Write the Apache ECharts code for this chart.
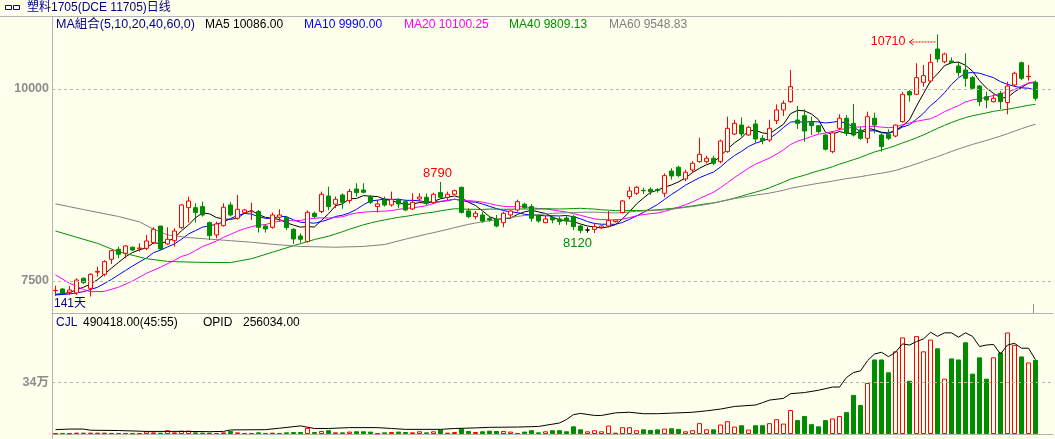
<!DOCTYPE html>
<html><head><meta charset="utf-8">
<script src="https://cdn.jsdelivr.net/npm/echarts@6/dist/echarts.min.js"></script>
<style>html,body{margin:0;padding:0;background:#FFFFEE;overflow:hidden}#c{width:1055px;height:439px}</style>
</head><body><div id="c"></div>
<script>
// ---- data ----
const open = [7374,7396,7353,7345,7535,7405,7615,7587,7783,7913,
7861,7939,7920,7926,8000,8216,7982,8025,8195,8455,
8455,8469,8260,8100,8221,8490,8317,8390,8400,8404,
8216,8199,8330,8330,8173,8086,8013,8382,8404,8607,
8500,8620,8547,8698,8685,8599,8469,8555,8490,8555,
8533,8438,8568,8590,8521,8651,8590,8629,8720,8412,
8339,8360,8313,8304,8260,8360,8425,8500,8469,8347,
8260,8330,8308,8320,8339,8216,8164,8173,8195,8216,
8273,8391,8599,8642,8680,8694,8690,8642,8932,8981,
8828,8946,9054,9054,9098,9054,9184,9414,9531,9401,
9544,9358,9336,9588,9727,9835,9596,9653,9566,9522,
9401,9184,9488,9619,9553,9466,9358,9619,9401,9410,
9388,9575,9966,9931,10087,10104,10521,10355,10365,10300,
10247,10148,10039,9900,9835,9944,9823,10052,10343,10160,
10087];
const close = [7378,7340,7383,7513,7478,7587,7625,7752,7895,7848,
7956,7904,7930,8021,8173,7917,8043,8151,8490,8542,
8391,8360,8091,8243,8460,8360,8434,8425,8408,8199,
8177,8360,8360,8195,8047,8043,8395,8339,8629,8469,
8564,8525,8665,8651,8655,8525,8503,8490,8564,8503,
8425,8525,8594,8512,8629,8590,8629,8676,8391,8338,
8382,8281,8295,8216,8382,8412,8533,8455,8317,8282,
8308,8295,8273,8280,8208,8156,8164,8208,8216,8286,
8295,8542,8672,8720,8675,8663,8680,8872,8868,8872,
8916,9033,9150,9098,9033,9323,9488,9553,9414,9501,
9349,9328,9488,9727,9814,10030,9553,9453,9522,9444,
9215,9430,9619,9423,9401,9358,9640,9531,9250,9358,
9531,9931,9922,10148,10174,10348,10391,10456,10343,10213,
10139,10009,9835,9857,9879,9835,10039,10205,10139,10165,
9879];
const low = [7305,7330,7318,7320,7462,7297,7557,7560,7722,7796,
7796,7890,7883,7900,7980,7900,7969,7947,8180,8260,
8260,8339,8034,8056,8208,8340,8300,8380,8294,8130,
8130,8180,8273,8164,7982,8000,8000,8317,8382,8420,
8447,8440,8510,8599,8642,8503,8391,8469,8469,8447,
8410,8425,8533,8490,8500,8570,8555,8620,8380,8317,
8304,8260,8273,8199,8199,8330,8404,8440,8273,8260,
8252,8252,8230,8230,8164,8120,8130,8125,8180,8200,
8260,8380,8564,8620,8633,8620,8650,8590,8820,8850,
8800,8910,9040,9030,9010,9030,9170,9400,9380,9390,
9300,9280,9310,9544,9649,9820,9480,9314,9401,9420,
9200,9163,9466,9388,9380,9336,9293,9423,9184,9336,
9370,9560,9835,9920,10030,10083,10348,10335,10335,10161,
10030,9990,9779,9749,9823,9736,9671,10030,10117,10109,
9848];
const high = [7439,7405,7435,7535,7548,7600,7687,7770,7904,7948,
7969,7950,7991,8100,8200,8216,8199,8187,8500,8598,
8512,8533,8273,8273,8512,8530,8620,8440,8520,8425,
8240,8390,8434,8339,8187,8121,8420,8404,8664,8728,
8599,8640,8700,8772,8772,8620,8555,8599,8664,8577,
8560,8642,8642,8640,8650,8790,8664,8690,8729,8447,
8412,8400,8347,8360,8404,8425,8560,8520,8500,8360,
8347,8360,8339,8350,8360,8230,8199,8252,8225,8412,
8300,8555,8729,8737,8716,8720,8710,8902,8968,9000,
8950,9060,9366,9130,9130,9340,9640,9600,9630,9520,
9600,9400,9600,9800,9850,10247,9780,9736,9640,9530,
9410,9450,9671,9661,9805,9509,9705,9692,9444,9475,
9540,9960,9987,10335,10312,10456,10710,10473,10412,10356,
10465,10170,10052,9966,9931,9974,10096,10226,10356,10312,
10109];
// volume, thousands of lots
const volumeK = [5,7,5,9,9,9,9,9,7,7,
7,5,5,18,11,9,25,11,22,22,
11,9,9,7,11,20,11,7,7,11,
7,9,7,11,13,13,40,13,20,25,
11,11,16,18,18,16,5,11,13,16,
13,11,18,11,18,29,9,13,36,20,
13,18,22,20,20,16,7,16,25,11,
18,25,25,18,51,31,18,25,18,56,
9,45,45,25,31,27,31,36,38,34,
18,25,72,31,31,63,85,49,58,29,
58,58,72,98,69,159,92,119,65,51,
92,103,119,145,259,192,338,494,494,409,
548,640,353,649,548,626,568,367,501,494,
608,400,508,367,508,541,673,591,514,474,
490.418];
// open interest (OPID) read at these day indices
const oiIdx = [0,2,4,5,9,13,19,22,24,25,30,32,35,37,39,42,46,48,50,55,57,60,62,66,69,72,73,74,75,77,78,80,82,84,86,88,91,93,95,97,100,101,102,104,105,107,109,111,112,113,114,115,116,117,118,119,120,121,122,123,124,125,126,127,128,129,130,131,132,133,134,135,136,137,138,139,140];
const oiK = [15,17,17,13,12,9,9,8,9,14,15,20,28,19,19,22,22,19,16,16,19,21,23,24,26,38,50,67,71,64,64,73,75,70,70,72,75,80,86,95,100,108,117,123,139,143,151,162,162,195,212,218,253,276,282,267,282,311,307,319,328,351,337,349,349,334,349,337,302,307,309,276,307,313,296,296,256.034];
// MA warm-up values (before enough closes exist)
const ma5HeadIdx = [0,1,2,3], ma5Head = [7327,7335,7350,7385];
const ma10HeadIdx = [0,2,4,6,8], ma10Head = [7318,7331,7361,7418,7520];
const ma20HeadIdx = [0,2,4,5,7,9,11,13,15,17,18], ma20Head = [7580,7470,7390,7360,7365,7420,7500,7600,7680,7770,7820];
const ma40HeadIdx = [0,3,6,9,13,16,20,25,28,31,34,37], ma40Head = [8151,8070,7990,7880,7790,7755,7744,7740,7790,7875,7960,8040];
const ma60HeadIdx = [0,4,9,12,14,16,19,22,25,28,31,35,40,44,47,50,53,55,57], ma60Head = [8505,8430,8340,8270,8175,8100,8065,8045,8025,8005,7978,7950,7940,7950,7975,8045,8110,8150,8195];
const priceTicks = [7500, 10000];
const volTicks = [340000];
const peakHi = {idx:126, val:10710};
const midHi = {idx:55, val:8790};
const midLo = {idx:75, val:8120};
const dojiBlack = [76];

// ---- build ----
const BG = '#FFFFEE', RED = '#FF0000', GREEN = '#008C00', NAVY = '#000088', GRID = '#B4B4B4';
const N = open.length;
const cats = open.map((_, i) => String(i + 1)).concat(['', '']);
function ma(n, hi, hv) {
  const out = new Array(N).fill(null);
  hi.forEach((k, j) => { out[k] = hv[j]; });
  for (let i = n - 1; i < N; i++) { let s = 0; for (let j = i - n + 1; j <= i; j++) s += close[j]; out[i] = s / n; }
  return out;
}
const candles = open.map((o, i) => {
  const d = {value: [o, close[i], low[i], high[i]]};
  if (dojiBlack.includes(i)) d.itemStyle = {color: '#000', color0: '#000', borderColor: '#000', borderColor0: '#000'};
  return d;
});
const vols = volumeK.map((v, i) => {
  const up = close[i] >= open[i];
  return {value: Math.round(v * 1000), itemStyle: up ? {color: BG, borderColor: RED, borderWidth: 1} : {color: GREEN, borderColor: GREEN, borderWidth: 1}};
});
const oi = oiIdx.map((k, j) => [k, oiK[j] * 1000]);
function maLine(name, data, color) {
  return {name, type: 'line', data, xAxisIndex: 0, yAxisIndex: 0, symbol: 'none', connectNulls: true,
    lineStyle: {color, width: 1}, z: 3, silent: true};
}
const chart = echarts.init(document.getElementById('c'), null, {renderer: 'canvas'});
const lblStyle = {color: '#8C8C8C', fontWeight: 'bold', fontSize: 12.5, fontFamily: 'Liberation Sans, Noto Sans CJK SC, sans-serif', margin: 3};
chart.setOption({
  animation: false,
  backgroundColor: BG,
  grid: [{left: 52, top: 17, width: 1001, height: 296}, {left: 52, top: 314, width: 1001, height: 120}],
  xAxis: [
    {type: 'category', data: cats, gridIndex: 0, boundaryGap: true, axisLine: {show: true, lineStyle: {color: GRID}}, axisTick: {show: false}, axisLabel: {show: false}, splitLine: {show: false}},
    {type: 'category', data: cats, gridIndex: 1, boundaryGap: true, axisLine: {show: true, lineStyle: {color: GRID}}, axisTick: {show: false}, axisLabel: {show: false}, splitLine: {show: false}}
  ],
  yAxis: [
    {type: 'value', gridIndex: 0, min: 10000 - 224 * 2500 / 192, max: 10000 + 72 * 2500 / 192, axisLine: {show: false}, axisTick: {show: false}, splitLine: {show: false},
      axisLabel: Object.assign({customValues: priceTicks, formatter: v => String(Math.round(v))}, lblStyle)},
    {type: 'value', gridIndex: 1, min: 0, max: 120 * 340000 / 51.3, axisLine: {show: false}, axisTick: {show: false}, splitLine: {show: false},
      axisLabel: Object.assign({customValues: volTicks, formatter: v => Math.round(v / 10000) + '万'}, lblStyle)},
    {type: 'value', gridIndex: 1, min: 0, max: 120 * 256034 / 74.2, show: false}
  ],
  series: [
    {type: 'candlestick', data: candles, xAxisIndex: 0, yAxisIndex: 0, barWidth: 5, z: 4,
      itemStyle: {color: BG, color0: GREEN, borderColor: RED, borderColor0: GREEN, borderWidth: 1},
      markLine: {silent: true, symbol: 'none', animation: false, label: {show: false}, lineStyle: {color: GRID, type: [3, 3], width: 1},
        data: priceTicks.map(v => ({yAxis: v}))}},
    maLine('MA5', ma(5, ma5HeadIdx, ma5Head), '#000000'),
    maLine('MA10', ma(10, ma10HeadIdx, ma10Head), '#0000FF'),
    maLine('MA20', ma(20, ma20HeadIdx, ma20Head), '#FF00FF'),
    maLine('MA40', ma(40, ma40HeadIdx, ma40Head), '#009000'),
    maLine('MA60', ma(60, ma60HeadIdx, ma60Head), '#808080'),
    {type: 'bar', data: vols, xAxisIndex: 1, yAxisIndex: 1, barWidth: 5, silent: true,
      markLine: {silent: true, symbol: 'none', animation: false, label: {show: false}, lineStyle: {color: GRID, type: [3, 3], width: 1},
        data: volTicks.map(v => ({yAxis: v}))}},
    {type: 'line', data: oi, xAxisIndex: 1, yAxisIndex: 2, symbol: 'none', connectNulls: true, lineStyle: {color: '#000', width: 1}, z: 5, silent: true}
  ]
});
const F = 'Liberation Sans, Noto Sans CJK SC, sans-serif';
function txt(x, y, s, color, size, align) {
  return {type: 'text', x, y, silent: true, z: 100, style: {text: s, fill: color, font: (size || 12) + 'px ' + F, textAlign: align || 'left', textVerticalAlign: 'middle'}};
}
const pPeak = chart.convertToPixel({xAxisIndex: 0, yAxisIndex: 0}, [peakHi.idx, peakHi.val]);
const pMid = chart.convertToPixel({xAxisIndex: 0, yAxisIndex: 0}, [midHi.idx, midHi.val]);
const pLo = chart.convertToPixel({xAxisIndex: 0, yAxisIndex: 0}, [midLo.idx, midLo.val]);
const g = [
  {type: 'line', shape: {x1: 0, y1: 16.5, x2: 1055, y2: 16.5}, style: {stroke: GRID, lineWidth: 1}, silent: true},
  {type: 'line', shape: {x1: 52.5, y1: 16, x2: 52.5, y2: 439}, style: {stroke: GRID, lineWidth: 1}, silent: true},
  {type: 'line', shape: {x1: 1033.5, y1: 304, x2: 1033.5, y2: 313}, style: {stroke: '#909090', lineWidth: 1}, silent: true},
  {type: 'line', shape: {x1: 1033.5, y1: 426, x2: 1033.5, y2: 434}, style: {stroke: '#909090', lineWidth: 1}, silent: true},
  {type: 'rect', shape: {x: 5.5, y: 5.5, width: 6, height: 4}, style: {fill: 'none', stroke: NAVY, lineWidth: 1}, silent: true},
  {type: 'rect', shape: {x: 13.5, y: 5.5, width: 6, height: 4}, style: {fill: 'none', stroke: NAVY, lineWidth: 1}, silent: true},
  txt(27, 8, '塑料1705(DCE 11705)日线', NAVY, 12),
  txt(56, 24.5, 'MA組合(5,10,20,40,60,0)', NAVY, 12.5),
  txt(205, 24.5, 'MA5 10086.00', '#000000', 12),
  txt(304, 24.5, 'MA10 9990.00', '#0000FF', 12),
  txt(404, 24.5, 'MA20 10100.25', '#FF00FF', 12),
  txt(509, 24.5, 'MA40 9809.13', '#009000', 12),
  txt(609, 24.5, 'MA60 9548.83', '#808080', 12),
  txt(56, 323, 'CJL', NAVY, 12),
  txt(83, 323, '490418.00(45:55)', '#000000', 12),
  txt(203, 323, 'OPID', '#000000', 12),
  txt(243, 323, '256034.00', '#000000', 12),
  txt(54, 303.5, '141天', NAVY, 12),
  txt(pPeak[0] - 32, pPeak[1] + 7.5, String(peakHi.val), RED, 12.5, 'right'),
  {type: 'line', shape: {x1: pPeak[0] - 28, y1: pPeak[1] + 7.5, x2: pPeak[0] - 2, y2: pPeak[1] + 7.5}, style: {stroke: RED, lineWidth: 1, lineDash: [2, 1]}, silent: true, z: 100},
  {type: 'polyline', shape: {points: [[pPeak[0] - 24, pPeak[1] + 4.5], [pPeak[0] - 28, pPeak[1] + 7.5], [pPeak[0] - 24, pPeak[1] + 10.5]]}, style: {stroke: RED, fill: 'none', lineWidth: 1}, silent: true, z: 100},
  txt(pMid[0] - 3, pMid[1] - 8.5, String(midHi.val), RED, 13, 'center'),
  txt(pLo[0] - 3, pLo[1] + 10, String(midLo.val), GREEN, 13, 'center')
];
chart.setOption({graphic: g});
</script></body></html>
